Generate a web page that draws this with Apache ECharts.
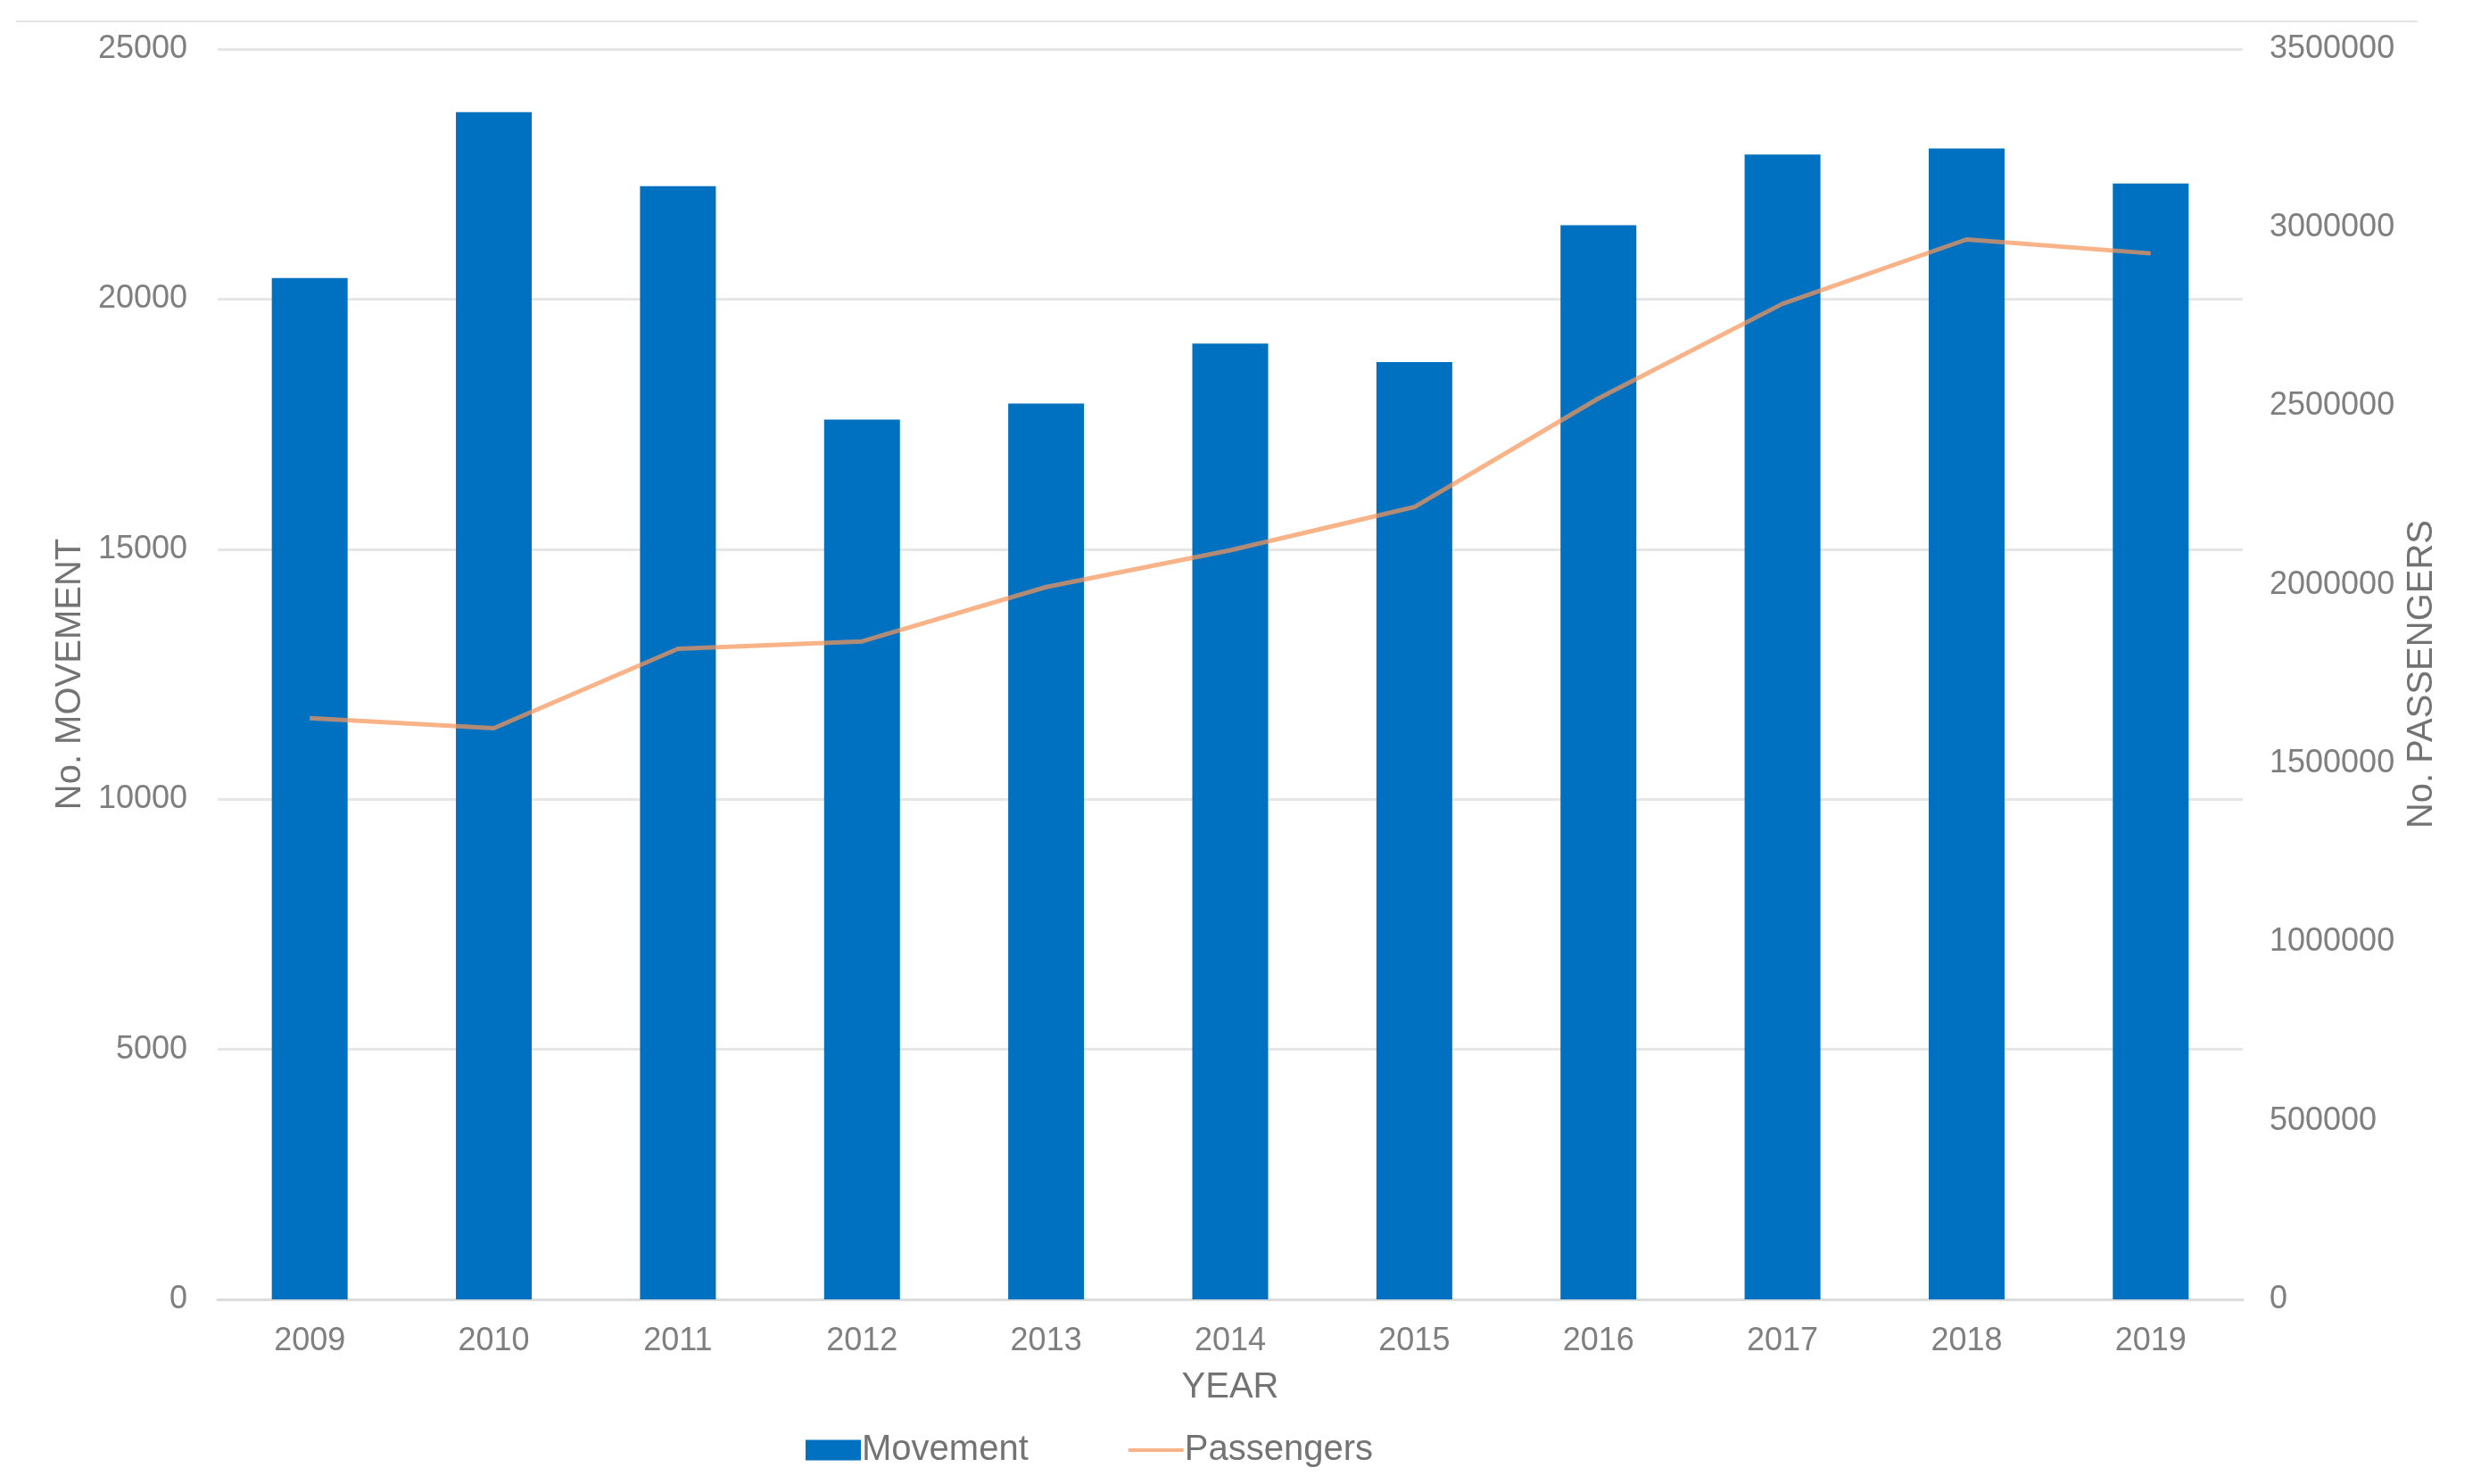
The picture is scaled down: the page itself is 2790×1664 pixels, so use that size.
<!DOCTYPE html>
<html>
<head>
<meta charset="utf-8">
<script src="https://cdn.jsdelivr.net/npm/echarts@6/dist/echarts.min.js"></script>
<style>
html,body{margin:0;padding:0;background:#fff;}
#chart{width:2790px;height:1664px;}
</style>
</head>
<body>
<div id="chart"></div>
<script>
var years = ['2009','2010','2011','2012','2013','2014','2015','2016','2017','2018','2019'];
var movement = [20420, 23740, 22260, 17590, 17910, 19110, 18740, 21480, 22890, 23010, 22310];
var passengers = [1627000, 1599000, 1821000, 1842000, 1994000, 2097000, 2218000, 2522000, 2787000, 2967000, 2928000];

var FONT = '"Liberation Sans", Arial, sans-serif';
var LINE_COLOR = 'rgba(246,150,90,0.72)';
var chart = echarts.init(document.getElementById('chart'), null, {renderer: 'canvas'});
function plain(v) { return String(v); }
chart.setOption({
  backgroundColor: '#ffffff',
  animation: false,
  textStyle: {fontFamily: FONT},
  graphic: [{
    type: 'line',
    shape: {x1: 18, y1: 24, x2: 2710, y2: 24},
    style: {stroke: '#e3e3e3', lineWidth: 2}
  }],
  grid: {left: 244, right: 276, top: 55, bottom: 207, containLabel: false},
  legend: {
    left: 898, top: 1601,
    itemWidth: 62, itemHeight: 23, itemGap: 112,
    textStyle: {fontSize: 40, color: '#737373', fontFamily: FONT, padding: [0,0,0,-4]},
    data: [
      {name: 'Movement', icon: 'rect'},
      {name: 'Passengers', icon: 'path://M0,0L60,0L60,4L0,4Z'}
    ]
  },
  xAxis: {
    type: 'category',
    data: years,
    name: 'YEAR',
    nameLocation: 'middle',
    nameGap: 79,
    nameTextStyle: {fontSize: 40, color: '#737373', fontFamily: FONT},
    axisLine: {show: true, lineStyle: {color: '#dcdcdc', width: 3}},
    axisTick: {show: false},
    axisLabel: {fontSize: 36, color: '#7f7f7f', margin: 29, fontFamily: FONT}
  },
  yAxis: [{
    type: 'value',
    min: 0, max: 25000, interval: 5000,
    name: 'No. MOVEMENT',
    nameLocation: 'middle',
    nameGap: 132,
    nameRotate: 90,
    nameTextStyle: {fontSize: 40, color: '#737373', fontFamily: FONT},
    axisLine: {show: false},
    axisTick: {show: false},
    axisLabel: {fontSize: 36, color: '#7f7f7f', margin: 34, fontFamily: FONT, formatter: plain},
    splitLine: {show: true, lineStyle: {color: '#e6e6e6', width: 3}}
  }, {
    type: 'value',
    min: 0, max: 3500000, interval: 500000,
    name: 'No. PASSENGERS',
    nameLocation: 'middle',
    nameGap: 168,
    nameRotate: 90,
    nameTextStyle: {fontSize: 40, color: '#737373', fontFamily: FONT},
    axisLine: {show: false},
    axisTick: {show: false},
    axisLabel: {fontSize: 36, color: '#7f7f7f', margin: 30, fontFamily: FONT, formatter: plain},
    splitLine: {show: false}
  }],
  series: [{
    name: 'Movement',
    type: 'bar',
    data: movement,
    yAxisIndex: 0,
    barWidth: 85,
    itemStyle: {color: '#0070C0'}
  }, {
    name: 'Passengers',
    type: 'line',
    data: passengers,
    yAxisIndex: 1,
    symbol: 'none',
    lineStyle: {color: LINE_COLOR, width: 5},
    itemStyle: {color: LINE_COLOR}
  }]
});
</script>
</body>
</html>
